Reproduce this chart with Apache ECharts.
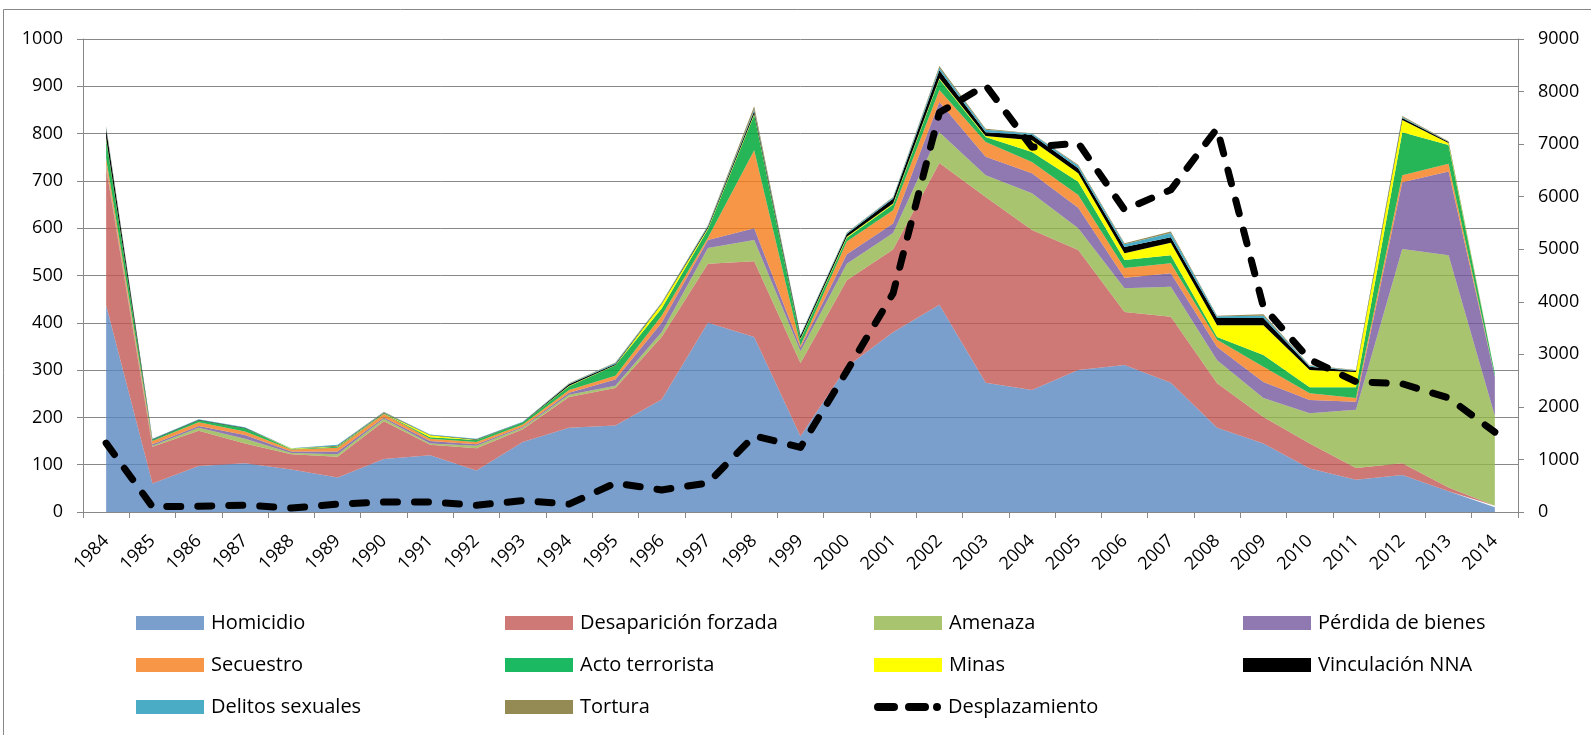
<!DOCTYPE html>
<html>
<head>
<meta charset="utf-8">
<script src="https://cdn.jsdelivr.net/npm/echarts@6/dist/echarts.min.js"></script>
<style>
html,body{margin:0;padding:0;background:#fff;}
#chart{width:1591px;height:735px;}
</style>
</head>
<body>
<div id="chart"></div>
<script>
const years = ['1984','1985','1986','1987','1988','1989','1990','1991','1992','1993','1994','1995','1996','1997','1998','1999','2000','2001','2002','2003','2004','2005','2006','2007','2008','2009','2010','2011','2012','2013','2014'];
const leftTicks = [0,100,200,300,400,500,600,700,800,900,1000];
const rightTicks = [0,1000,2000,3000,4000,5000,6000,7000,8000,9000];

const homicidio        = [437,60,97,103,90,73,112,120,88,148,178,183,238,400,370,160,307,380,438,273,258,300,311,273,178,145,92,68,78,44,10];
const desaparicion     = [290,78,75,42,32,44,80,22,47,27,65,79,132,125,160,155,183,175,300,393,338,254,112,140,94,56,53,25,25,8,3];
const amenaza          = [4,2,6,10,3,5,5,3,5,3,5,5,10,33,45,25,35,35,65,46,78,46,50,63,49,40,64,123,453,491,190];
const perdida          = [3,3,4,8,3,6,3,5,3,2,4,13,20,17,25,8,20,20,64,39,42,43,22,29,28,34,28,17,141,177,83];
const secuestro        = [14,7,8,7,4,8,7,5,5,5,6,8,15,5,165,4,27,28,25,31,24,27,21,21,15,32,14,8,15,16,1];
const actoTerrorista   = [40,3,4,7,1,2,1,3,4,4,8,22,15,18,75,13,8,12,23,11,21,28,17,17,6,25,13,23,91,40,6];
const minas            = [2,0,0,0,1,1,1,4,1,0,1,1,10,2,2,2,2,2,2,2,25,18,14,26,25,63,36,32,26,4,0];
const vinculacion      = [20,1,1,1,0,1,1,1,1,1,3,2,1,3,6,5,6,10,17,8,11,11,13,12,15,15,7,2,4,2,1];
const delitosSexuales  = [3,1,1,1,1,2,1,1,1,1,1,2,1,2,3,2,2,3,5,5,3,5,6,9,4,5,2,1,2,1,1];
const tortura          = [3,0,0,0,0,0,1,0,0,0,1,1,1,1,7,1,1,1,4,2,1,2,2,3,1,3,1,1,2,1,1];
const desplazamiento   = [1310,100,110,130,75,150,190,190,130,215,150,550,420,550,1450,1230,2680,4160,7600,8120,6940,7020,5750,6130,7300,3900,2900,2480,2440,2170,1520];

const FONT = 'Open Sans';
const GRID_COLOR = '#888888';

// [name, data, apparent colour (legend), fill colour, fill opacity]
const areaDefs = [
  ['Homicidio', homicidio, '#7B9FCC', '#5A87BF', 0.8],
  ['Desaparición forzada', desaparicion, '#CF7977', '#C35855', 0.8],
  ['Amenaza', amenaza, '#A9C46F', '#94B54B', 0.8],
  ['Pérdida de bienes', perdida, '#9079B0', '#74589C', 0.8],
  ['Secuestro', secuestro, '#F79646', '#F57C18', 0.8],
  ['Acto terrorista', actoTerrorista, '#1BB961', '#00A83A', 0.85],
  ['Minas', minas, '#FFFF00', '#FFFF00', 1],
  ['Vinculación NNA', vinculacion, '#000000', '#000000', 1],
  ['Delitos sexuales', delitosSexuales, '#4BACC6', '#4BACC6', 1],
  ['Tortura', tortura, '#948A54', '#948A54', 1]
];

const series = areaDefs.map(d => ({
  name: d[0],
  type: 'line',
  stack: 'total',
  data: d[1],
  symbol: 'none',
  color: d[2],
  itemStyle: { color: d[2] },
  lineStyle: { width: 0 },
  areaStyle: { color: d[3], opacity: d[4] },
  emphasis: { disabled: true },
  animation: false,
  z: 2
}));

series.push({
  name: 'Desplazamiento',
  type: 'line',
  yAxisIndex: 1,
  data: desplazamiento,
  symbol: 'none',
  color: '#000',
  itemStyle: { color: '#000' },
  lineStyle: { color: '#000', width: 7, type: [14, 17], cap: 'round', join: 'round' },
  emphasis: { disabled: true },
  animation: false,
  z: 5
});

// dash - dash - dot legend glyph (68 x 14 box)
const DASH_ICON = 'path://M0,0 L0.05,0 L0,0.05 Z M68,14 L67.95,14 L68,13.95 Z ' +
  'M4,3 H20 A4,4 0 0 1 20,11 H4 A4,4 0 0 1 4,3 Z ' +
  'M35,3 H51 A4,4 0 0 1 51,11 H35 A4,4 0 0 1 35,3 Z ' +
  'M63,3 A4,4 0 0 1 63,11 A4,4 0 0 1 63,3 Z';

function legendCol(left, names) {
  return {
    orient: 'vertical',
    left: left,
    top: 613,
    padding: 0,
    itemWidth: 68,
    itemHeight: 14,
    itemGap: 22,
    selectedMode: false,
    textStyle: { fontFamily: FONT, fontSize: 20, color: '#000', padding: [0, 0, 0, 2] },
    data: names.map(n => n === 'Desplazamiento'
      ? { name: n, icon: DASH_ICON, itemStyle: { color: '#000' }, textStyle: { padding: [0, 0, 0, 1] } }
      : { name: n, icon: 'rect' })
  };
}

const plain = v => String(v);

const option = {
  animation: false,
  backgroundColor: '#fff',
  grid: { left: 83, right: 73, top: 39, bottom: 223, containLabel: false },
  legend: [
    legendCol(136, ['Homicidio', 'Secuestro', 'Delitos sexuales']),
    legendCol(505, ['Desaparición forzada', 'Acto terrorista', 'Tortura']),
    legendCol(874, ['Amenaza', 'Minas', 'Desplazamiento']),
    legendCol(1243, ['Pérdida de bienes', 'Vinculación NNA'])
  ],
  xAxis: {
    type: 'category',
    data: years,
    boundaryGap: true,
    axisLine: { lineStyle: { color: GRID_COLOR, width: 1 } },
    axisTick: { show: true, length: 6, lineStyle: { color: GRID_COLOR } },
    axisLabel: { interval: 0, rotate: 45, margin: 26, fontFamily: FONT, fontSize: 18, color: '#000' },
    splitLine: { show: false }
  },
  yAxis: [
    {
      type: 'value',
      min: leftTicks[0], max: leftTicks[leftTicks.length - 1], interval: 100,
      axisLine: { show: true, lineStyle: { color: GRID_COLOR, width: 1 } },
      axisTick: { show: true, length: 6, lineStyle: { color: GRID_COLOR } },
      axisLabel: { margin: 20, fontFamily: FONT, fontSize: 18, color: '#000', formatter: plain },
      splitLine: { show: true, lineStyle: { color: GRID_COLOR, width: 1 } }
    },
    {
      type: 'value',
      position: 'right',
      min: rightTicks[0], max: rightTicks[rightTicks.length - 1], interval: 1000,
      axisLine: { show: true, lineStyle: { color: GRID_COLOR, width: 1 } },
      axisTick: { show: true, length: 6, lineStyle: { color: GRID_COLOR } },
      axisLabel: { margin: 20, fontFamily: FONT, fontSize: 18, color: '#000', formatter: plain },
      splitLine: { show: false }
    }
  ],
  graphic: [{
    type: 'rect',
    shape: { x: 3.5, y: 9.5, width: 1700, height: 900 },
    style: { fill: 'none', stroke: '#888888', lineWidth: 1 },
    silent: true,
    z: -1
  }],
  series: series
};

const chart = echarts.init(document.getElementById('chart'), null, { renderer: 'canvas' });
chart.setOption(option);
</script>
</body>
</html>
